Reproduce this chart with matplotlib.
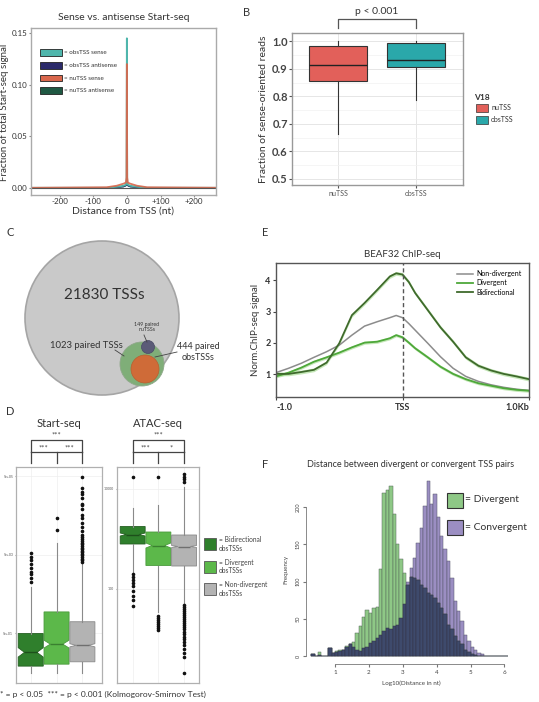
import numpy as np
import matplotlib
matplotlib.use("Agg")
import matplotlib.pyplot as plt
from matplotlib.patches import Circle, Rectangle
import matplotlib.transforms as mtransforms

plt.rcParams['font.family'] = ['Lato', 'DejaVu Sans']

# ================= DATA =================
# A: Sense vs antisense Start-seq
a_pos = [-280, -60, -30, -10, -3, -1, 0, 1, 3, 10, 30, 60, 280]
a_obs_sense = [0, 0, 0.001, 0.002, 0.003, 0.006, 0.145, 0.006, 0.003, 0.002, 0.001, 0, 0]
a_obs_anti = [0, 0, 0.0005, 0.001, 0.002, 0.003, 0.004, 0.003, 0.002, 0.001, 0.0005, 0, 0]
a_nu_sense = [0, 0.0005, 0.002, 0.004, 0.005, 0.01, 0.12, 0.01, 0.005, 0.004, 0.002, 0.0005, 0]
a_nu_anti = [0, 0, 0.0005, 0.001, 0.002, 0.003, 0.004, 0.003, 0.002, 0.001, 0.0005, 0, 0]
a_labels = ["= obsTSS sense", "= obsTSS antisense", "= nuTSS sense", "= nuTSS antisense"]

# B: fraction of sense-oriented reads
b_groups = ["nuTSS", "obsTSS"]
b_whislo = [0.665, 0.785]
b_q1 = [0.855, 0.908]
b_med = [0.912, 0.932]
b_q3 = [0.983, 0.993]
b_whishi = [1.0, 1.0]

# C: Venn counts
c_total = 21830
c_paired = 1023
c_paired_nu = 149
c_paired_obs = 444

# D: Start-seq / ATAC-seq box stats (log10 units)
d_groups = ["Bidirectional\nobsTSSs", "Divergent\nobsTSSs", "Non-divergent\nobsTSSs"]
d_start_whislo = [0.68, 0.68, 0.68]
d_start_q1 = [0.86, 0.91, 0.97]
d_start_med = [1.21, 1.42, 1.39]
d_start_q3 = [1.69, 2.24, 1.99]
d_start_whishi = [2.88, 4.00, 3.49]
d_start_notch = [0.12, 0.10, 0.04]
d_start_fliers = [
    [3.0, 3.1, 3.2, 3.25, 3.35, 3.45, 3.55, 3.65, 3.74],
    [4.32, 4.64],
    [3.52, 3.56, 3.6, 3.64, 3.68, 3.72, 3.76, 3.8, 3.84, 3.88, 3.92, 3.96, 4.0,
     4.05, 4.1, 4.15, 4.2, 4.3, 4.4, 4.5, 4.62, 4.72, 4.85, 4.95, 5.0, 5.15,
     5.25, 5.3, 5.4, 5.68],
]
d_atac_whislo = [2.35, 1.55, 1.72]
d_atac_q1 = [2.90, 2.47, 2.46]
d_atac_med = [3.09, 2.87, 2.85]
d_atac_q3 = [3.25, 3.14, 3.08]
d_atac_whishi = [3.63, 3.68, 4.05]
d_atac_notch = [0.03, 0.05, 0.02]
d_atac_fliers = [
    [4.24, 2.30, 2.24, 2.18, 2.12, 2.06, 1.96, 1.86, 1.78, 1.66],
    [4.25, 1.46, 1.42, 1.38, 1.34, 1.30, 1.26, 1.22, 1.18],
    [4.15, 4.2, 4.25, 4.3, 1.68, 1.64, 1.6, 1.56, 1.52, 1.48, 1.44, 1.4, 1.36,
     1.32, 1.28, 1.24, 1.2, 1.15, 1.1, 1.05, 1.0, 0.95, 0.88, 0.8, 0.72, 0.64, 0.32],
]
d_start_sig = ["***", "***", "***"]   # top, left, right
d_atac_sig = ["***", "***", "*"]

# E: BEAF32 ChIP-seq profiles
e_pos = [-1000, -900, -800, -700, -600, -500, -400, -300, -200, -100, -50, 0, 50,
         100, 200, 300, 400, 500, 600, 700, 800, 900, 1000]
e_nondiv = [1.05, 1.19, 1.35, 1.54, 1.72, 1.93, 2.25, 2.54, 2.68, 2.81, 2.88, 2.81, 2.62,
            2.41, 1.99, 1.56, 1.19, 0.93, 0.77, 0.66, 0.58, 0.52, 0.48]
e_div = [0.93, 1.05, 1.21, 1.40, 1.54, 1.69, 1.86, 2.01, 2.04, 2.15, 2.25, 2.18, 2.01,
         1.83, 1.54, 1.24, 1.01, 0.84, 0.71, 0.63, 0.55, 0.50, 0.47]
e_bidir = [1.01, 1.01, 1.07, 1.14, 1.37, 1.99, 2.89, 3.28, 3.70, 4.13, 4.23, 4.19, 3.95,
           3.60, 3.05, 2.50, 2.04, 1.54, 1.27, 1.12, 1.01, 0.93, 0.84]
e_labels = ["Non-divergent", "Divergent", "Bidirectional"]

# F: histogram of log10 distances
f_centers = [0.35, 0.45, 0.55, 0.65, 0.75, 0.85, 0.95,
             1.05, 1.15, 1.25, 1.35, 1.45, 1.55, 1.65, 1.75, 1.85, 1.95,
             2.05, 2.15, 2.25, 2.35, 2.45, 2.55, 2.65, 2.75, 2.85, 2.95,
             3.05, 3.15, 3.25, 3.35, 3.45, 3.55, 3.65, 3.75, 3.85, 3.95,
             4.05, 4.15, 4.25, 4.35, 4.45, 4.55, 4.65, 4.75, 4.85, 4.95,
             5.05, 5.15, 5.25, 5.35, 5.45, 5.55, 5.65, 5.75, 5.85, 5.95, 6.05]
f_divergent = [3, 0, 6, 1, 1, 11, 5,
               7, 8, 9, 14, 17, 19, 31, 40, 52, 62,
               58, 65, 66, 117, 219, 222, 228, 190, 150, 130,
               112, 95, 106, 105, 102, 96, 92, 85, 82, 78,
               72, 65, 56, 42, 36, 27, 20, 16, 9, 6,
               3, 2, 1, 0, 0, 0, 0, 0, 0, 0, 0]
f_convergent = [3, 0, 2, 0, 1, 11, 4,
                6, 7, 8, 12, 16, 12, 9, 7, 11, 13,
                18, 20, 25, 29, 34, 38, 36, 40, 42, 51,
                70, 100, 118, 132, 152, 172, 201, 235, 204, 217,
                186, 161, 143, 128, 105, 74, 60, 47, 29, 20,
                13, 9, 4, 3, 1, 1, 1, 1, 1, 1, 1]

# ================= FIGURE =================
W, H = 539, 702
fig = plt.figure(figsize=(W / 100, H / 100), dpi=100)


def add_ax(l, t, r, b, **kw):
    return fig.add_axes([l / W, 1 - b / H, (r - l) / W, (b - t) / H], **kw)


def ftext(x, y, s, **kw):
    fig.text(x / W, 1 - y / H, s, **kw)


# ---------- Panel A ----------
axA = add_ax(31, 28, 216, 195)
colA = ['#4fb6ac', '#2b2a6a', '#d9674c', '#1f5843']
axA.plot(a_pos, a_nu_anti, color=colA[3], lw=0.8)
axA.plot(a_pos, a_obs_anti, color=colA[1], lw=0.8)
axA.plot(a_pos, a_obs_sense, color=colA[0], lw=1.3)
axA.plot(a_pos, a_nu_sense, color=colA[2], lw=1.3, alpha=0.9)
axA.axhline(0, color='#555555', lw=0.8)
axA.set_xlim(-285, 265)
axA.set_ylim(-0.007, 0.155)
axA.set_xticks([-200, -100, 0, 100, 200])
axA.set_xticklabels(['-200', '-100', '0', '+100', '+200'])
axA.set_yticks([0, 0.05, 0.10, 0.15])
axA.set_yticklabels(['0.00', '0.05', '0.10', '0.15'])
axA.tick_params(labelsize=5.8, length=1.5, color='#888888', labelcolor='#333333', pad=0.8)
for s in axA.spines.values():
    s.set_color('#aaaaaa')
    s.set_linewidth(1.0)
axA.set_title('Sense vs. antisense Start-seq', fontsize=7.5, color='#333333', pad=6)
axA.set_xlabel('Distance from TSS (nt)', fontsize=7.5, color='#333333', labelpad=1)
ftext(5, 112, 'Fraction of total Start-seq signal', fontsize=7, color='#333333',
      rotation=90, ha='center', va='center')
for i, (lab, c) in enumerate(zip(a_labels, colA)):
    y0 = 0.832 - i * 0.076
    axA.add_patch(Rectangle((0.05, y0), 0.117, 0.04, transform=axA.transAxes,
                            facecolor=c, edgecolor='#222222', lw=0.6))
    axA.text(0.176, y0 + 0.02, lab, transform=axA.transAxes, fontsize=4.5,
             va='center', color='#333333')

# ---------- Panel B ----------
axB = add_ax(292, 33, 463, 185)
statsB = []
for i, g in enumerate(b_groups):
    statsB.append(dict(label=g, whislo=b_whislo[i], q1=b_q1[i], med=b_med[i],
                       q3=b_q3[i], whishi=b_whishi[i], fliers=[]))
colB = ['#e2605a', '#2aa8aa']
bp = axB.bxp(statsB, positions=[1, 2], widths=0.75, patch_artist=True, showcaps=False,
             boxprops=dict(edgecolor='#333333', lw=0.8),
             medianprops=dict(color='#222222', lw=1.0),
             whiskerprops=dict(color='#333333', lw=0.8))
for p, c in zip(bp['boxes'], colB):
    p.set_facecolor(c)
axB.set_xlim(0.41, 2.6)
axB.set_ylim(0.478, 1.03)
axB.set_yticks([0.5, 0.6, 0.7, 0.8, 0.9, 1.0])
axB.set_yticks([0.55, 0.65, 0.75, 0.85, 0.95], minor=True)
axB.grid(True, which='major', color='#e6e6e6', lw=0.7)
axB.grid(True, which='minor', color='#f2f2f2', lw=0.5)
axB.set_axisbelow(True)
axB.tick_params(axis='y', which='minor', length=0)
axB.tick_params(axis='y', labelsize=8, length=2, color='#555555', labelcolor='#444444', pad=1)
axB.tick_params(axis='x', labelsize=5, length=2, color='#555555', labelcolor='#555555', pad=1.5)
for lab in axB.get_yticklabels():
    lab.set_fontweight('bold')
for s in axB.spines.values():
    s.set_color('#999999')
    s.set_linewidth(1.0)
axB.set_ylabel('Fraction of sense-oriented reads', fontsize=7.5, color='#333333', labelpad=3)
trB = mtransforms.blended_transform_factory(axB.transData, axB.transAxes)
axB.plot([1, 1, 2, 2], [1.033, 1.092, 1.092, 1.033], transform=trB, color='#555555',
         lw=0.9, clip_on=False)
axB.text(1.5, 1.14, 'p < 0.001', transform=trB, ha='center', va='center', fontsize=7.5,
         color='#333333')
ftext(474, 97, 'V18', fontsize=6, fontweight='bold', color='#333333', va='center')
for i, (g, c) in enumerate(zip(b_groups, colB)):
    yy = 108 + i * 12
    fig.patches.append(Rectangle(((476) / W, 1 - (yy + 4) / H), 12 / W, 8 / H,
                                 transform=fig.transFigure, facecolor=c,
                                 edgecolor='#333333', lw=0.5))
    ftext(491, yy, g, fontsize=5, color='#333333', va='center')

# ---------- Panel C ----------
axC = add_ax(0, 220, 270, 400)
axC.set_xlim(0, 270)
axC.set_ylim(400, 220)
axC.axis('off')
axC.add_patch(Circle((102, 318), 77, facecolor='#c9c9c9', edgecolor='#a5a5a5', lw=1.2))
axC.add_patch(Circle((142, 364), 22, facecolor='#7fae78', edgecolor='#8fa88a', lw=0.6))
axC.add_patch(Circle((145, 369), 14, facecolor='#cf6b38', edgecolor='#b86030', lw=0.5))
axC.add_patch(Circle((148, 347), 6.5, facecolor='#5b5b78', edgecolor='#4a4a66', lw=0.5))
axC.text(104, 295, f'{c_total} TSSs', fontsize=11, ha='center', va='center', color='#333333')
axC.text(86, 346, f'{c_paired} paired TSSs', fontsize=6.8, ha='center', va='center',
         color='#333333')
axC.text(147, 327, f'{c_paired_nu} paired\nnuTSSs', fontsize=3.8, ha='center', va='center',
         color='#333333', linespacing=1.1)
axC.text(198, 352, f'{c_paired_obs} paired\nobsTSSs', fontsize=6.5, ha='center', va='center',
         color='#333333', linespacing=1.2)
axC.plot([115, 124], [350, 356], color='#444444', lw=0.6)
axC.plot([144, 147], [335, 342], color='#444444', lw=0.6)
axC.plot([177, 155], [352, 357], color='#444444', lw=0.6)

# ---------- Panel D ----------
colD = ['#2f7f2c', '#5cb84a', '#b3b3b3']
edD = ['#255f22', '#4a9a3c', '#8a8a8a']
medD = ['#1d4f1b', '#3a8030', '#6f6f6f']


def d_panel(l, r, whislo, q1, med, q3, whishi, notch, fliers, xl, ylim, yt, ytl, title, sig):
    ax = add_ax(l, 467, r, 683)
    stats = []
    for i in range(3):
        stats.append(dict(whislo=10 ** whislo[i], q1=10 ** q1[i], med=10 ** med[i],
                          q3=10 ** q3[i], whishi=10 ** whishi[i],
                          cilo=10 ** (med[i] - notch[i]), cihi=10 ** (med[i] + notch[i]),
                          fliers=[10 ** v for v in fliers[i]]))
    b = ax.bxp(stats, positions=[1, 2, 3], widths=0.97, patch_artist=True, showcaps=False,
               shownotches=True,
               whiskerprops=dict(color='#8a8a8a', lw=0.8),
               flierprops=dict(marker='o', markersize=1.6, markerfacecolor='#111111',
                               markeredgecolor='#111111'))
    for i, p in enumerate(b['boxes']):
        p.set_facecolor(colD[i])
        p.set_edgecolor(edD[i])
        p.set_linewidth(0.6)
    for i, m in enumerate(b['medians']):
        m.set_color(medD[i])
        m.set_linewidth(1.0)
    ax.set_yscale('log')
    ax.set_xlim(*xl)
    ax.set_ylim(10 ** ylim[0], 10 ** ylim[1])
    ax.set_yticks([10 ** v for v in yt])
    ax.set_yticklabels(ytl)
    ax.minorticks_off()
    ax.set_xticks([1, 2, 3])
    ax.set_xticklabels([])
    ax.tick_params(axis='x', length=0)
    ax.tick_params(axis='y', labelsize=2.5, length=1, color='#999999', labelcolor='#555555', pad=1)
    ax.grid(True, color='#eeeeee', lw=0.5)
    ax.set_axisbelow(True)
    for s in ax.spines.values():
        s.set_color('#b0b0b0')
        s.set_linewidth(0.9)
    ax.set_title(title, fontsize=8, color='#333333', pad=29)
    tr = mtransforms.blended_transform_factory(ax.transData, ax.transAxes)
    kw = dict(transform=tr, color='#444444', lw=0.9, clip_on=False)
    ax.plot([1, 1, 3, 3], [1.069, 1.125, 1.125, 1.069], **kw)
    ax.plot([1, 3], [1.069, 1.069], **kw)
    for xx in [1, 2, 3]:
        ax.plot([xx, xx], [1.019, 1.069], **kw)
    ax.text(2, 1.148, sig[0], transform=tr, ha='center', va='center', fontsize=5.5,
            color='#444444')
    ax.text(1.5, 1.088, sig[1], transform=tr, ha='center', va='center', fontsize=5.5,
            color='#444444')
    ax.text(2.5, 1.088, sig[2], transform=tr, ha='center', va='center', fontsize=5.5,
            color='#444444')
    return ax


d_panel(16, 102, d_start_whislo, d_start_q1, d_start_med, d_start_q3, d_start_whishi,
        d_start_notch, d_start_fliers, (0.43, 3.76), (0.43, 5.93), [1.7, 3.7, 5.7],
        ['5e+01', '5e+03', '5e+05'], 'Start-seq', d_start_sig)
d_panel(117, 199, d_atac_whislo, d_atac_q1, d_atac_med, d_atac_q3, d_atac_whishi,
        d_atac_notch, d_atac_fliers, (0.39, 3.58), (0.12, 4.44), [2, 4],
        ['100', '10000'], 'ATAC-seq', d_atac_sig)
for i, g in enumerate(d_groups):
    yy = 544 + i * 22.5
    fig.patches.append(Rectangle((204 / W, 1 - (yy + 6) / H), 12 / W, 12 / H,
                                 transform=fig.transFigure, facecolor=colD[i],
                                 edgecolor='#555555', lw=0.6))
    ftext(219, yy, '= ' + g, fontsize=4.8, color='#444444', va='center', linespacing=1.2)
ftext(0, 694, '* = p < 0.05  *** = p < 0.001 (Kolmogorov-Smirnov Test)', fontsize=6,
      color='#333333', va='center')

# ---------- Panel E ----------
axE = add_ax(276, 263, 529, 397)
axE.fill_between(e_pos, np.array(e_bidir) - 0.06, np.array(e_bidir) + 0.06,
                 color='#9fd98a', alpha=0.6, lw=0)
axE.fill_between(e_pos, np.array(e_div) - 0.05, np.array(e_div) + 0.05,
                 color='#9fd98a', alpha=0.6, lw=0)
axE.plot(e_pos, e_nondiv, color='#8c8c8c', lw=1.1, label=e_labels[0])
axE.plot(e_pos, e_div, color='#4ea83a', lw=1.3, label=e_labels[1])
axE.plot(e_pos, e_bidir, color='#3f6a2c', lw=1.3, label=e_labels[2])
axE.axvline(0, color='#555555', lw=1.0, ls=(0, (3, 2)))
axE.set_xlim(-1000, 1000)
axE.set_ylim(0.27, 4.56)
axE.set_xticks([-1000, 0, 1000])
axE.set_xticklabels(['-1.0', 'TSS', '1.0Kb'])
axE.get_xticklabels()[0].set_ha('left')
axE.get_xticklabels()[2].set_ha('right')
axE.set_yticks([1, 2, 3, 4])
axE.tick_params(labelsize=6.5, length=2, color='#444444', labelcolor='#333333', pad=2)
for lab in axE.get_xticklabels() + axE.get_yticklabels():
    lab.set_fontweight('bold')
for s in axE.spines.values():
    s.set_color('#555555')
    s.set_linewidth(1.0)
axE.set_title('BEAF32 ChIP-seq', fontsize=7, color='#333333', pad=4)
axE.set_ylabel('Norm.ChIP-seq signal', fontsize=7, color='#333333', labelpad=4)
axE.legend(loc='upper right', frameon=False, fontsize=5, handlelength=2.2,
           handletextpad=0.6, labelspacing=0.35, borderaxespad=0.6)

# ---------- Panel F ----------
axF = add_ax(306, 474, 516, 664)
colF_div = '#8ec886'
colF_conv = '#9b8ec2'
colF_both = '#3e4a6c'
ovl = np.minimum(f_divergent, f_convergent)
axF.bar(f_centers, f_convergent, width=0.1, color=colF_conv, edgecolor='#55556a', lw=0.35)
axF.bar(f_centers, f_divergent, width=0.1, color=colF_div, edgecolor='#55665a', lw=0.35)
axF.bar(f_centers, ovl, width=0.1, color=colF_both, edgecolor='#333344', lw=0.35)
axF.set_xlim(0.145, 6.34)
axF.set_ylim(-10.3, 244)
for s in ['top', 'right']:
    axF.spines[s].set_visible(False)
axF.spines['left'].set_bounds(0, 200)
axF.spines['bottom'].set_bounds(1, 6)
for s in ['left', 'bottom']:
    axF.spines[s].set_color('#777777')
    axF.spines[s].set_linewidth(0.6)
axF.set_xticks([1, 2, 3, 4, 5, 6])
axF.set_yticks([0, 50, 100, 150, 200])
axF.tick_params(axis='x', labelsize=4.5, length=2, color='#777777', labelcolor='#444444', pad=2)
axF.tick_params(axis='y', labelsize=4, length=2, color='#777777', labelcolor='#444444',
                pad=2, labelrotation=90)
for lab in axF.get_yticklabels():
    lab.set_va('center')
axF.set_xlabel('Log10(Distance in nt)', fontsize=4.5, color='#444444', labelpad=4)
axF.set_ylabel('Frequency', fontsize=4.5, color='#444444', labelpad=5)
axF.set_title('Distance between divergent or convergent TSS pairs', fontsize=6.5,
              color='#333333', pad=5)
for i, (lab, c) in enumerate(zip(['= Divergent', '= Convergent'], [colF_div, colF_conv])):
    yy = 500 + i * 27
    fig.patches.append(Rectangle((447 / W, 1 - (yy + 7.5) / H), 16 / W, 15 / H,
                                 transform=fig.transFigure, facecolor=c,
                                 edgecolor='#333333', lw=0.8))
    ftext(465, yy, lab, fontsize=7.5, color='#333333', va='center')

# ---------- panel letters ----------
for letter, x, y in [('B', 247, 13), ('C', 10, 232), ('D', 10, 412), ('E', 265, 232),
                     ('F', 265, 464)]:
    ftext(x, y, letter, fontsize=8, color='#333333', ha='center', va='center')

fig.savefig('out.png', dpi=100)
